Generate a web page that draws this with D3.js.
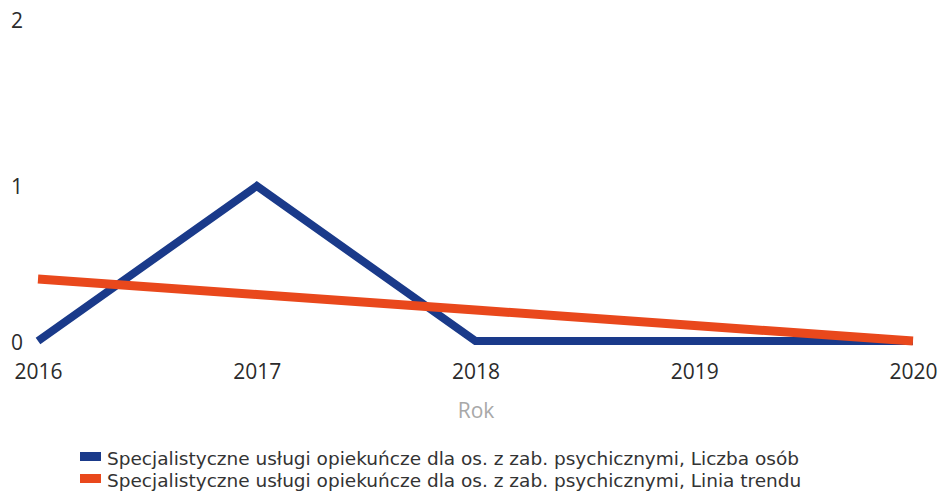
<!DOCTYPE html>
<html>
<head>
<meta charset="utf-8">
<script src="https://cdn.jsdelivr.net/npm/d3@7"></script>
<style>
  body { margin: 0; background: #fff; }
</style>
</head>
<body>
<svg id="view" width="940" height="494"></svg>
<script>
// DATA
var YEARS = ["2016", "2017", "2018", "2019", "2020"];
var PERSONS = [0, 1, 0, 0, 0];
var TREND = [0.4, 0.3, 0.2, 0.1, 0];
var Y_TICKS = [0, 1, 2];
var SERIES_NAMES = [
    "Specjalistyczne usługi opiekuńcze dla os. z zab. psychicznymi, Liczba osób",
    "Specjalistyczne usługi opiekuńcze dla os. z zab. psychicznymi, Linia trendu"
];

// CONSTANTS
var BLUE = "#1a3a8a";
var RED = "#e9481c";
var TICK_COLOR = "#2b2b2b";
var TICK_FONT = "Open Sans, sans-serif";

var svg = d3.select("#view");

var x = d3.scalePoint()
    .domain(YEARS)
    .range([38, 913]);

var y = d3.scaleLinear()
    .domain([0, 2])
    .range([341, 31]);

// label baselines sit a bit off the grid values
var yLabel = d3.scaleLinear()
    .domain([0, 1, 2])
    .range([350, 194, 28]);

// y tick labels
svg.append("g")
    .selectAll("text")
    .data(Y_TICKS)
    .join("text")
    .attr("x", 17)
    .attr("y", function(d) { return yLabel(d); })
    .attr("text-anchor", "middle")
    .style("font-family", TICK_FONT)
    .style("font-size", "21px")
    .attr("fill", TICK_COLOR)
    .text(function(d) { return d; });

// x tick labels
var xAxis = svg.append("g")
    .attr("transform", "translate(0,379)")
    .call(d3.axisBottom(x).tickSize(0).tickPadding(0));
xAxis.select(".domain").remove();
xAxis.selectAll("text")
    .attr("y", 0)
    .attr("dy", 0)
    .style("font-family", TICK_FONT)
    .style("font-size", "21px")
    .attr("fill", TICK_COLOR);

// axis title
svg.append("text")
    .attr("x", 476)
    .attr("y", 418)
    .attr("text-anchor", "middle")
    .style("font-family", TICK_FONT)
    .style("font-size", "21px")
    .attr("fill", "#a8a8a8")
    .text("Rok");

var line = d3.line()
    .x(function(d, i) { return x(YEARS[i]); })
    .y(function(d) { return y(d); });

svg.append("path")
    .datum(PERSONS)
    .attr("d", line)
    .attr("fill", "none")
    .attr("stroke", BLUE)
    .attr("stroke-width", 8);

svg.append("path")
    .datum(TREND)
    .attr("d", line)
    .attr("fill", "none")
    .attr("stroke", RED)
    .attr("stroke-width", 9);

// legend
var legend = svg.append("g")
    .attr("transform", "translate(80,452)");
var colors = [BLUE, RED];
SERIES_NAMES.forEach(function(name, i) {
    var row = legend.append("g")
        .attr("transform", "translate(0," + (i * 22) + ")");
    row.append("rect")
        .attr("x", 0)
        .attr("y", 0)
        .attr("width", 21)
        .attr("height", 9)
        .attr("fill", colors[i]);
    row.append("text")
        .attr("x", 27)
        .attr("y", 13)
        .style("font-family", "DejaVu Sans, sans-serif")
        .style("font-size", "18.5px")
        .attr("fill", "#333")
        .text(name);
});
</script>
</body>
</html>
